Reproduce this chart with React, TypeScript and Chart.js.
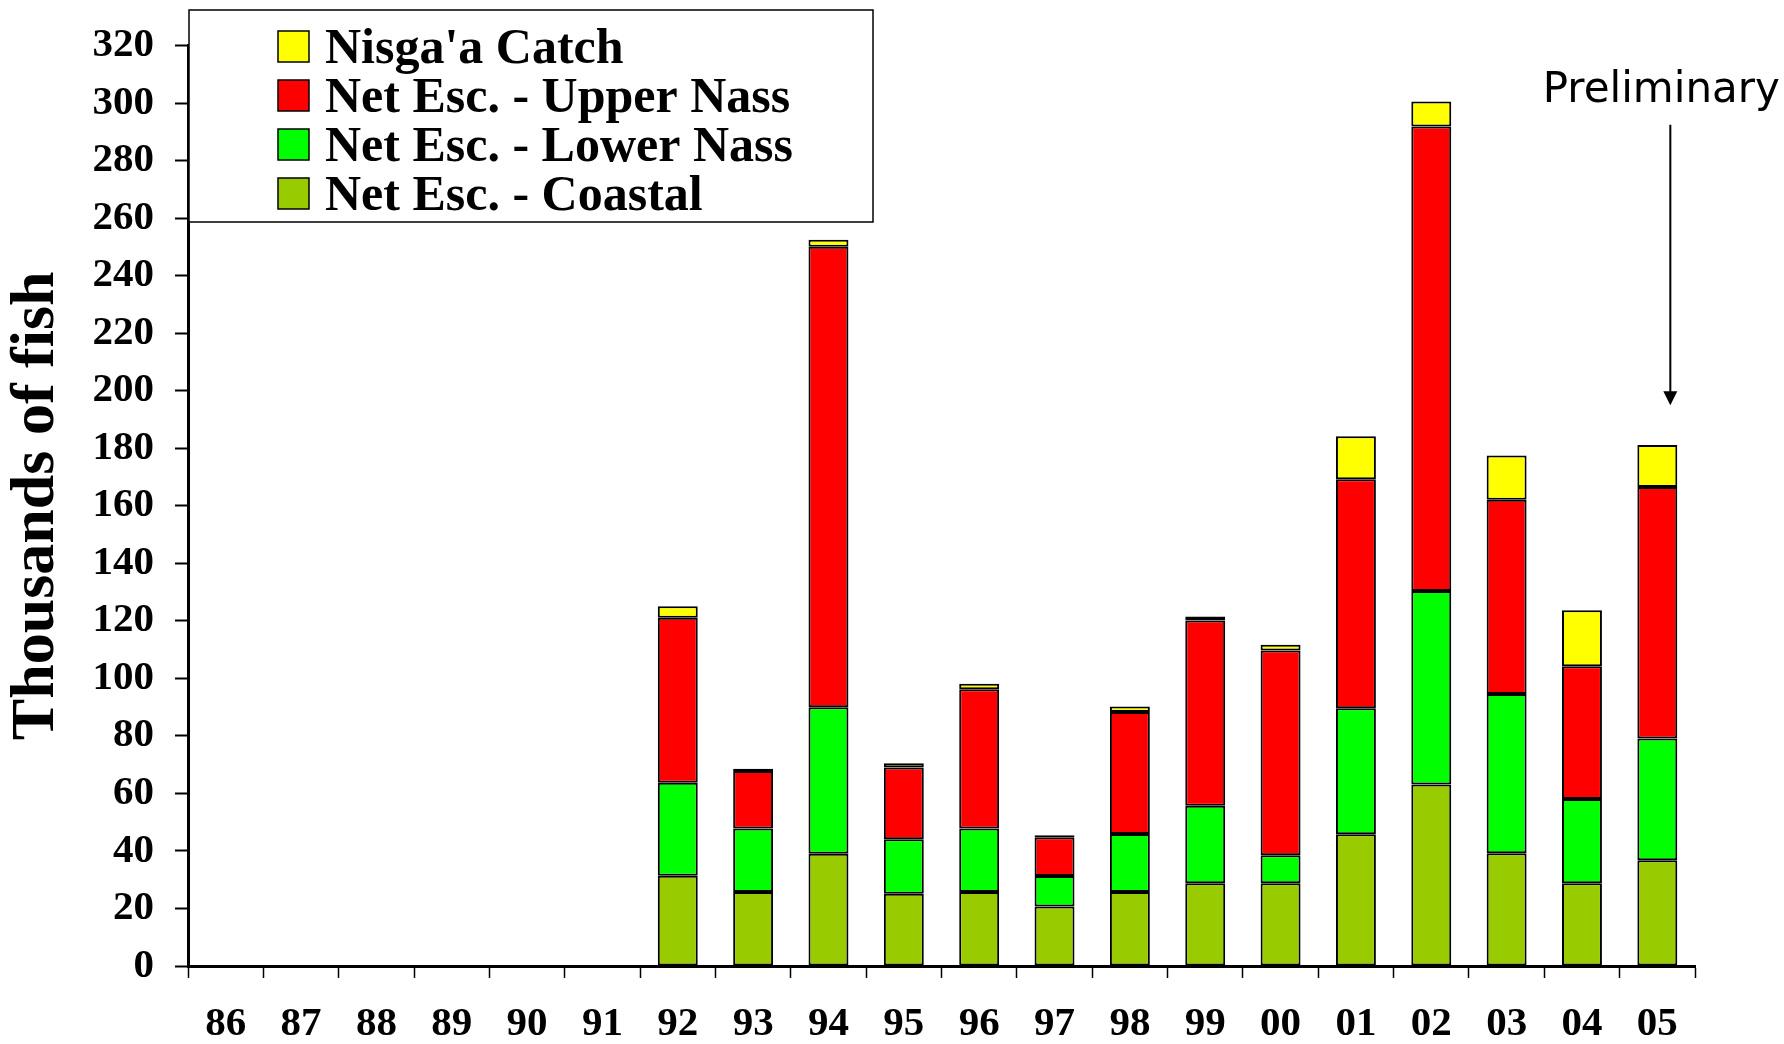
import React, { useEffect, useRef } from 'react';
import { Chart, registerables } from 'chart.js';

Chart.register(...registerables);

const YEARS = ['86', '87', '88', '89', '90', '91', '92', '93', '94', '95', '96', '97', '98', '99', '00', '01', '02', '03', '04', '05'];
const COASTAL = [null, null, null, null, null, null, 31.4, 25.7, 39.0, 25.1, 25.7, 20.7, 25.7, 28.8, 28.8, 45.8, 63.1, 39.2, 28.8, 36.8];
const LOWER_NASS = [null, null, null, null, null, null, 32.3, 22.1, 51.0, 19.0, 22.1, 10.6, 20.2, 26.9, 9.7, 43.8, 67.3, 55.4, 29.3, 42.3];
const UPPER_NASS = [null, null, null, null, null, null, 57.4, 20.0, 160.1, 24.9, 48.4, 13.5, 42.4, 64.4, 71.2, 79.6, 161.5, 67.5, 46.1, 87.4];
const NISGAA_CATCH = [null, null, null, null, null, null, 4.0, 0.8, 2.4, 1.5, 1.9, 0.7, 1.9, 1.4, 2.0, 15.0, 8.7, 15.4, 19.5, 14.6];

const SERIES_LABELS = ['Net Esc. - Coastal', 'Net Esc. - Lower Nass', 'Net Esc. - Upper Nass', "Nisga'a Catch"];
const SERIES_COLORS = ['#99CC00', '#00FF00', '#FF0000', '#FFFF00'];

const Y_MIN = 0;
const Y_MAX = 320;
const Y_STEP = 20;
const Y_TITLE = 'Thousands of fish';

const NOTE_TEXT = 'Preliminary';
const NOTE_YEAR = '05';

const SERIF = "'Liberation Serif', 'Times New Roman', serif";

const boxLegendPlugin = {
  id: 'boxLegend',
  afterDraw(chart: any) {
    const ctx = chart.ctx;
    ctx.save();
    const bx = 189, by = 10, bw = 684, bh = 212;
    ctx.fillStyle = '#ffffff';
    ctx.fillRect(bx, by, bw, bh);
    ctx.lineWidth = 1.5;
    ctx.strokeStyle = '#000000';
    ctx.strokeRect(bx, by, bw, bh);
    const items = chart.data.datasets.slice().reverse();
    ctx.font = `bold 50px ${SERIF}`;
    ctx.textAlign = 'left';
    ctx.textBaseline = 'alphabetic';
    items.forEach((ds: any, i: number) => {
      const rowTop = 31 + i * 49;
      ctx.fillStyle = ds.backgroundColor;
      ctx.fillRect(278, rowTop, 31, 31);
      ctx.lineWidth = 1.5;
      ctx.strokeStyle = '#000000';
      ctx.strokeRect(278, rowTop, 31, 31);
      ctx.fillStyle = '#000000';
      ctx.fillText(ds.label, 325, rowTop + 32);
    });
    ctx.restore();
  },
};

const notePlugin = {
  id: 'preliminaryNote',
  afterDraw(chart: any) {
    const ctx = chart.ctx;
    const xs = chart.scales.x;
    const ys = chart.scales.y;
    const idx = YEARS.indexOf(NOTE_YEAR);
    const ax = xs.getPixelForValue(idx) + 13;
    const tipY = ys.getPixelForValue(195);
    const topY = ys.getPixelForValue(292.5);
    const textY = ys.getPixelForValue(300.3);
    ctx.save();
    ctx.fillStyle = '#000000';
    ctx.strokeStyle = '#000000';
    ctx.font = "42px 'DejaVu Sans', sans-serif";
    ctx.textAlign = 'center';
    ctx.textBaseline = 'alphabetic';
    ctx.fillText(NOTE_TEXT, ax - 9, textY);
    ctx.lineWidth = 2;
    ctx.beginPath();
    ctx.moveTo(ax, topY);
    ctx.lineTo(ax, tipY - 12);
    ctx.stroke();
    ctx.beginPath();
    ctx.moveTo(ax - 7, tipY - 14);
    ctx.lineTo(ax + 7, tipY - 14);
    ctx.lineTo(ax, tipY);
    ctx.closePath();
    ctx.fill();
    ctx.restore();
  },
};

export default function App() {
  const canvasRef = useRef<HTMLCanvasElement | null>(null);

  useEffect(() => {
    const canvas = canvasRef.current;
    if (!canvas) return;
    const seriesValues = [COASTAL, LOWER_NASS, UPPER_NASS, NISGAA_CATCH];
    const chart = new Chart(canvas, {
      type: 'bar',
      data: {
        labels: YEARS,
        datasets: seriesValues.map((vals, i) => ({
          label: SERIES_LABELS[i],
          data: vals,
          backgroundColor: SERIES_COLORS[i],
          borderColor: '#000000',
          borderWidth: 2,
          borderSkipped: false,
          barPercentage: 0.53,
          categoryPercentage: 1.0,
          stack: 'total',
        })),
      },
      options: {
        responsive: false,
        animation: false,
        devicePixelRatio: 1,
        layout: { padding: { top: 43, right: 89, bottom: 0, left: 0 } },
        plugins: {
          legend: { display: false },
          tooltip: { enabled: false },
        },
        scales: {
          x: {
            stacked: true,
            afterFit(scale: any) {
              scale.height = 78;
            },
            grid: {
              display: true,
              offset: true,
              drawOnChartArea: false,
              drawTicks: true,
              tickLength: 12,
              tickWidth: 1.5,
              tickColor: '#000000',
              color: '#000000',
            },
            border: { display: true, color: '#000000', width: 3 },
            ticks: {
              color: '#000000',
              padding: 22,
              maxRotation: 0,
              autoSkip: false,
              font: { family: SERIF, size: 41, weight: 'bold' },
            },
          },
          y: {
            stacked: true,
            min: Y_MIN,
            max: Y_MAX,
            afterFit(scale: any) {
              scale.width = 188;
            },
            grid: {
              display: true,
              drawOnChartArea: false,
              drawTicks: true,
              tickLength: 13,
              tickWidth: 2,
              tickColor: '#000000',
              color: '#000000',
            },
            border: { display: true, color: '#000000', width: 3 },
            ticks: {
              stepSize: Y_STEP,
              color: '#000000',
              padding: 21,
              font: { family: SERIF, size: 41, weight: 'bold' },
            },
            title: {
              display: true,
              text: Y_TITLE,
              color: '#000000',
              padding: { top: 0, bottom: 0 },
              font: { family: SERIF, size: 62, weight: 'bold', lineHeight: 1.2 },
            },
          },
        },
      },
      plugins: [boxLegendPlugin, notePlugin],
    } as any);
    return () => chart.destroy();
  }, []);

  return (
    <div style={{ position: 'fixed', left: 0, top: 0, width: 1784, height: 1044, background: '#ffffff' }}>
      <canvas ref={canvasRef} width={1784} height={1044} style={{ width: 1784, height: 1044, display: 'block' }} />
    </div>
  );
}
